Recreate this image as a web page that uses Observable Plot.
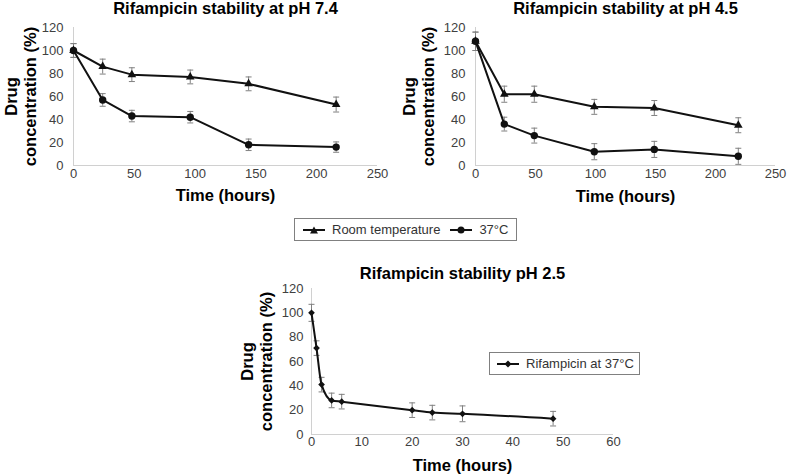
<!DOCTYPE html>
<html><head><meta charset="utf-8">
<script src="https://cdn.jsdelivr.net/npm/d3@7"></script>
<script src="https://cdn.jsdelivr.net/npm/@observablehq/plot@0.6"></script>
<style>
html,body{margin:0;padding:0;background:#fff;}
#chart{position:relative;width:790px;height:474px;overflow:hidden;font-family:"Liberation Sans",Arial,sans-serif;}
.panel{position:absolute;}
.legend{position:absolute;box-sizing:border-box;border:1px solid #808080;display:flex;align-items:center;font-size:13px;color:#333;background:#fff;white-space:nowrap;}
.sw{position:relative;display:inline-block;width:22px;height:10px;margin-right:7px;}
.sw .ln{position:absolute;left:0;right:0;top:4px;height:2px;background:#111;}
.sw .mk{position:absolute;left:50%;top:50%;transform:translate(-50%,-50%);}
.mk.circle{width:7px;height:7px;border-radius:50%;background:#111;}
.mk.tri{width:0;height:0;border-left:4px solid transparent;border-right:4px solid transparent;border-bottom:7px solid #111;}
.mk.diamond{width:5px;height:5px;background:#111;transform:translate(-50%,-50%) rotate(45deg) !important;}
</style></head>
<body>
<div id="chart"></div>
<script>
// ---- tick labels / texts ----
const xTicks250 = [0, 50, 100, 150, 200, 250];
const xTicks60 = [0, 10, 20, 30, 40, 50, 60];
const yTicks = [0, 20, 40, 60, 80, 100, 120];
const titles = ["Rifampicin stability at pH 7.4", "Rifampicin stability at pH 4.5", "Rifampicin stability pH 2.5"];
const yTitle = "Drug\nconcentration (%)";
const xTitle = "Time (hours)";
const seriesNames = ["Room temperature", "37°C"];
const ph25Name = "Rifampicin at 37°C";

// ---- pH 7.4 ----
const ph74Time = [0, 24, 48, 96, 144, 216];
const ph74Room = [100, 86, 79, 77, 71, 53];
const ph74RoomErr = [6, 6.5, 6, 6, 6, 6.5];
const ph74Warm = [100, 57, 43, 42, 18, 16];
const ph74WarmErr = [6, 5.5, 5, 5, 5, 4.5];

// ---- pH 4.5 ----
const ph45Time = [0, 24, 49, 99, 149, 219];
const ph45Room = [108, 62, 62, 51, 50, 35];
const ph45RoomErr = [8, 7, 7, 6.5, 6.5, 6.5];
const ph45Warm = [108, 36, 26, 12, 14, 8];
const ph45WarmErr = [8, 6, 6.5, 7, 7, 7];

// ---- pH 2.5 ----
const ph25Time = [0, 1, 2, 4, 6, 20, 24, 30, 48];
const ph25Warm = [100, 71, 41, 28, 27, 20, 18, 17, 13];
const ph25WarmErr = [7, 6, 6, 6, 6, 6, 6, 6.5, 6];

const table = (t, v, e) => t.map((x, i) => ({t: x, v: v[i], e: e[i]}));

const capSymbol = {
  draw(ctx, size) { const h = Math.sqrt(size / Math.PI); ctx.moveTo(-h, 0); ctx.lineTo(h, 0); }
};

const FONT = "Liberation Sans, Arial, Helvetica, sans-serif";

function makePanel(cfg) {
  const marks = [
    Plot.ruleY([0], {stroke: "#d0d0d0", strokeWidth: 1}),
    Plot.ruleX([0], {stroke: "#d0d0d0", strokeWidth: 1})
  ];
  for (const s of cfg.series) {
    marks.push(Plot.ruleX(s.data, {x: "t", y1: d => d.v - d.e, y2: d => d.v + d.e, stroke: "#808080", strokeWidth: 1}));
    marks.push(Plot.dot(s.data, {x: "t", y: d => d.v + d.e, symbol: capSymbol, r: 3, stroke: "#808080", fill: "none", strokeWidth: 1}));
    marks.push(Plot.dot(s.data, {x: "t", y: d => d.v - d.e, symbol: capSymbol, r: 3, stroke: "#808080", fill: "none", strokeWidth: 1}));
  }
  for (const s of cfg.series) {
    marks.push(Plot.line(s.data, {x: "t", y: "v", stroke: "#111", strokeWidth: 2, curve: cfg.curve || "linear"}));
  }
  for (const s of cfg.series) {
    marks.push(Plot.dot(s.data, {x: "t", y: "v", symbol: s.symbol, r: s.r, fill: "#111", stroke: "none"}));
  }
  const bold = {fontWeight: "bold", fontSize: 16.5, fill: "#000", textAnchor: "middle", lineAnchor: "middle"};
  marks.push(Plot.text([cfg.title], {frameAnchor: "top", dy: cfg.titleDy, ...bold}));
  marks.push(Plot.text([xTitle], {frameAnchor: "bottom", dy: cfg.xTitleDy, ...bold}));
  marks.push(Plot.text([yTitle], {frameAnchor: "left", dx: cfg.yTitleDx, rotate: -90, lineHeight: 1.15, ...bold}));

  const svg = Plot.plot({
    width: cfg.width, height: cfg.height,
    marginLeft: cfg.ml, marginRight: cfg.mr, marginTop: cfg.mt, marginBottom: cfg.mb,
    x: {domain: cfg.xDomain, ticks: cfg.xTicks, tickSize: 0, tickPadding: cfg.xPad, label: null},
    y: {domain: [0, 120], ticks: yTicks, tickSize: 0, tickPadding: cfg.yPad, label: null},
    style: {fontFamily: FONT, fontSize: "13px", color: "#404040", background: "transparent", overflow: "visible"},
    marks
  });
  svg.classList.add("panel");
  svg.style.left = cfg.left + "px";
  svg.style.top = cfg.top + "px";
  return svg;
}

const chart = document.getElementById("chart");

chart.appendChild(makePanel({
  left: 0, top: 0, width: 395, height: 210, ml: 73, mr: 18, mt: 27, mb: 45,
  xDomain: [0, 250], xTicks: xTicks250, xPad: 3, yPad: 10,
  title: titles[0], titleDy: -18.5, xTitleDy: 30.5, yTitleDx: -53.5,
  series: [
    {data: table(ph74Time, ph74Room, ph74RoomErr), symbol: "triangle", r: 3.2},
    {data: table(ph74Time, ph74Warm, ph74WarmErr), symbol: "circle", r: 3.7}
  ]
}));

chart.appendChild(makePanel({
  left: 400, top: 0, width: 390, height: 210, ml: 75, mr: 15, mt: 27, mb: 45,
  xDomain: [0, 250], xTicks: xTicks250, xPad: 3, yPad: 10,
  title: titles[1], titleDy: -19, xTitleDy: 31, yTitleDx: -57,
  series: [
    {data: table(ph45Time, ph45Room, ph45RoomErr), symbol: "triangle", r: 3.2},
    {data: table(ph45Time, ph45Warm, ph45WarmErr), symbol: "circle", r: 3.7}
  ]
}));

chart.appendChild(makePanel({
  left: 230, top: 240, width: 400, height: 234, ml: 81, mr: 17, mt: 48, mb: 40,
  xDomain: [0, 60], xTicks: xTicks60, xPad: 2, yPad: 8,
  title: titles[2], titleDy: -15, xTitleDy: 31.5, yTitleDx: -55, curve: "monotone-x",
  series: [
    {data: table(ph25Time, ph25Warm, ph25WarmErr), symbol: "diamond2", r: 3}
  ]
}));

// ---- legends ----
function swatch(kind) {
  return `<span class="sw"><span class="ln"></span><span class="mk ${kind}"></span></span>`;
}
const leg1 = document.createElement("div");
leg1.className = "legend";
Object.assign(leg1.style, {left: "294px", top: "218px", width: "223px", height: "23px", paddingLeft: "8px"});
leg1.innerHTML = `${swatch("tri")}<span style="margin-right:10px">${seriesNames[0]}</span>${swatch("circle")}<span>${seriesNames[1]}</span>`;
chart.appendChild(leg1);

const leg2 = document.createElement("div");
leg2.className = "legend";
Object.assign(leg2.style, {left: "489px", top: "352px", width: "151px", height: "23px", paddingLeft: "7px"});
leg2.innerHTML = `${swatch("diamond")}<span>${ph25Name}</span>`;
chart.appendChild(leg2);
</script>
</body></html>
